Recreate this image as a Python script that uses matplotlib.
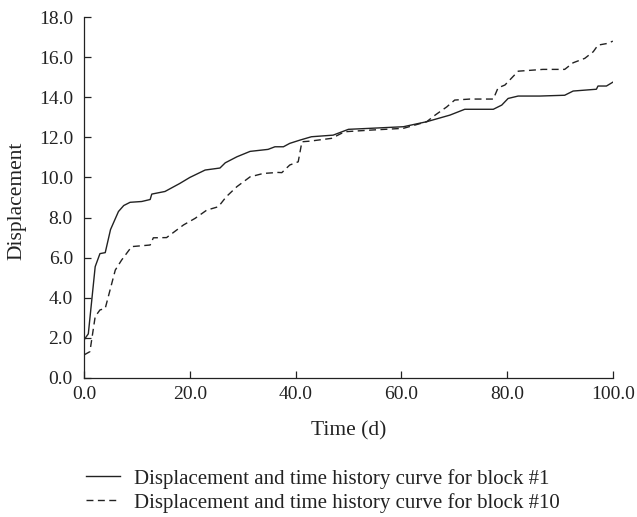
import matplotlib
matplotlib.use("Agg")
import matplotlib.pyplot as plt
from matplotlib.lines import Line2D

# Displacement history of block #1
t_block1 = [0, 0.8, 1.5, 2.1, 3.0, 4.0, 5.0, 6.5, 7.5, 8.7, 10.9, 12.5, 12.8, 15.3,
            18.1, 20.0, 22.9, 25.7, 26.7, 28.9, 31.4, 34.8, 36.1, 37.7, 38.9, 40.8,
            43.0, 47.1, 50.0, 54.1, 60.4, 64.8, 69.2, 72.0, 77.4, 79.0, 80.2, 82.1,
            86.2, 90.9, 92.5, 96.9, 97.2, 98.8, 100]
d_block1 = [1.9, 2.2, 4.0, 5.55, 6.2, 6.25, 7.4, 8.3, 8.6, 8.76, 8.8, 8.9, 9.17, 9.3,
            9.7, 10.0, 10.37, 10.47, 10.73, 11.03, 11.3, 11.4, 11.53, 11.53, 11.7, 11.86,
            12.03, 12.11, 12.4, 12.45, 12.53, 12.78, 13.11, 13.4, 13.4, 13.61, 13.94, 14.06,
            14.06, 14.1, 14.31, 14.4, 14.56, 14.56, 14.75]

# Displacement history of block #10
t_block10 = [0, 1.1, 2.1, 3.0, 4.0, 5.9, 7.1, 9.0, 12.5, 13.1, 15.6, 18.8, 21.0, 23.2,
             25.4, 26.9, 28.9, 31.4, 33.9, 36.7, 37.4, 38.9, 40.5, 41.2, 42.7, 46.8,
             49.3, 54.1, 60.4, 64.8, 66.4, 68.6, 70.1, 73.0, 77.4, 78.3, 79.6, 82.1,
             86.8, 90.9, 92.5, 94.7, 96.3, 97.2, 99.1, 100]
d_block10 = [1.15, 1.31, 3.06, 3.39, 3.47, 5.38, 5.88, 6.55, 6.63, 6.99, 7.0, 7.63, 7.96, 8.37,
             8.54, 9.04, 9.54, 10.03, 10.2, 10.25, 10.24, 10.62, 10.78, 11.78, 11.81, 11.95,
             12.28, 12.36, 12.45, 12.78, 13.11, 13.52, 13.86, 13.91, 13.91, 14.47, 14.61, 15.3,
             15.39, 15.39, 15.72, 15.94, 16.27, 16.6, 16.69, 16.8]

x_ticks = [0, 20, 40, 60, 80, 100]
y_ticks = [0, 2, 4, 6, 8, 10, 12, 14, 16, 18]
labels = ["Displacement and time history curve for block #1",
          "Displacement and time history curve for block #10"]

plt.rcParams["font.family"] = ["Liberation Serif", "DejaVu Serif"]

ink = "#222222"
dash = (0, (5, 3.2))
fig = plt.figure(figsize=(6.37, 5.17), dpi=100)
ax = fig.add_axes([0.132, 0.269, 0.830, 0.698])

ax.plot(t_block1, d_block1, color=ink, lw=1.0, solid_joinstyle="round")
ax.plot(t_block10, d_block10, color=ink, lw=1.0, linestyle=dash)

ax.set_xlim(0, 100)
ax.set_ylim(0, 18)
ax.set_xticks(x_ticks)
ax.set_yticks(y_ticks)
ax.set_xticklabels([f"{v:.1f}" for v in x_ticks])
ax.set_yticklabels([f"{v:.1f}" for v in y_ticks])
ax.tick_params(direction="in", length=5, width=0.9, color=ink, labelcolor=ink,
               labelsize=14)
ax.tick_params(axis="x", pad=6)
ax.tick_params(axis="y", pad=8)
for side in ("top", "right"):
    ax.spines[side].set_visible(False)
for side in ("left", "bottom"):
    ax.spines[side].set_color(ink)
    ax.spines[side].set_linewidth(0.9)

fig.text(0.548, 0.166, "Time (d)", ha="center", va="center", color=ink, fontsize=15.5)
fig.text(0.026, 0.612, "Displacement", ha="center", va="center", rotation=90,
         color=ink, fontsize=15.5)

handles = [Line2D([], [], color=ink, lw=1.0),
           Line2D([], [], color=ink, lw=1.0, linestyle=dash)]
fig.legend(handles, labels, loc="center left", bbox_to_anchor=(0.135, 0.051),
           frameon=False, fontsize=15, handlelength=1.63, handletextpad=0.67,
           labelspacing=0.2, borderpad=0, borderaxespad=0, labelcolor=ink)

fig.savefig("out.png", dpi=100, facecolor="white")
